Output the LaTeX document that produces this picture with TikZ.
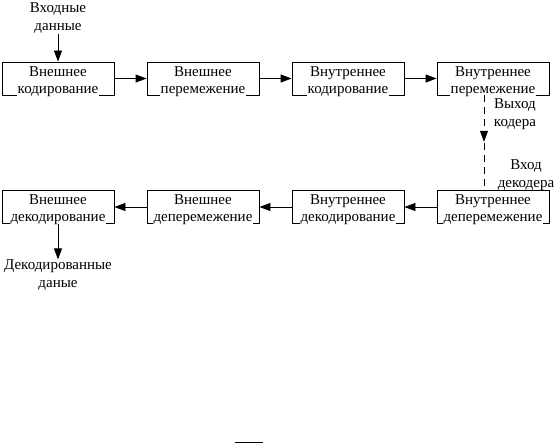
\documentclass[tikz,border=0pt]{standalone}
\usepackage{fontspec}
\setmainfont{Liberation Serif}
\usetikzlibrary{arrows.meta,decorations.markings,calc}
\begin{document}
\begin{tikzpicture}[x=1pt,y=-1pt,
  blk/.style={draw,line width=0.8pt,minimum width=112pt,minimum height=33pt,inner sep=0pt},
  txt/.style={fill=white,inner sep=1pt,align=center,font=\fontsize{15}{17}\selectfont},
  lbl/.style={inner sep=0pt,align=center,font=\fontsize{15}{18}\selectfont},
  arr/.style={line width=0.8pt,-{Triangle[length=11pt,width=8pt]}}]
\useasboundingbox (0,0) rectangle (554,444);
% top row
\node[blk] (b1) at (58,78.5) {};
\node[blk] (b2) at (203,78.5) {};
\node[blk] (b3) at (348,78.5) {};
\node[blk] (b4) at (493,78.5) {};
% bottom row
\node[blk] (b5) at (493,207) {};
\node[blk] (b6) at (348,207) {};
\node[blk] (b7) at (203,207) {};
\node[blk] (b8) at (58,207) {};
% texts
\node[txt,anchor=south] (t1) at ([yshift=-2.3pt]b1.south) {Внешнее\\кодирование};
\node[txt,anchor=south] (t2) at ([yshift=-2.3pt]b2.south) {Внешнее\\перемежение};
\node[txt,anchor=south] (t3) at ([yshift=-2.3pt]b3.south) {Внутреннее\\кодирование};
\node[txt,anchor=south] (t4) at ([yshift=-2.3pt]b4.south) {Внутреннее\\перемежение};
\node[txt,anchor=south] (t5) at ([yshift=-2.3pt]b5.south) {Внутреннее\\деперемежение};
\node[txt,anchor=south] (t6) at ([yshift=-2.3pt]b6.south) {Внутреннее\\декодирование};
\node[txt,anchor=south] (t7) at ([yshift=-2.3pt]b7.south) {Внешнее\\деперемежение};
\node[txt,anchor=south] (t8) at ([yshift=-2.3pt]b8.south) {Внешнее\\декодирование};
% io labels
\node[lbl] (in) at (58,18) {Входные\\данные};
\node[lbl] (out) at (58,275) {Декодированные\\даные};
\node[lbl] (lo) at (515,114) {Выход\\кодера};
\node[lbl] (li) at (526,175) {Вход\\декодера};
% arrows
\draw[arr] (in.south) -- (b1.north);
\draw[arr] (b1) -- (b2);
\draw[arr] (b2) -- (b3);
\draw[arr] (b3) -- (b4);
\draw[arr] (b5) -- (b6);
\draw[arr] (b6) -- (b7);
\draw[arr] (b7) -- (b8);
\draw[arr] (b8.south) -- (out.north);
\draw[line width=0.8pt,dash pattern=on 7pt off 5pt,
  postaction={decorate,decoration={markings,mark=at position 0.49 with {\arrow{Triangle[length=11pt,width=8pt]}}}}]
  ([xshift=-9pt]b4.south) -- ([xshift=-9pt]b5.north);
% stray short line at bottom
\coordinate (s1) at (235,442.5);
\coordinate (s2) at (263,442.5);
\draw[line width=1pt] (s1) -- (s2);
\end{tikzpicture}
\end{document}
